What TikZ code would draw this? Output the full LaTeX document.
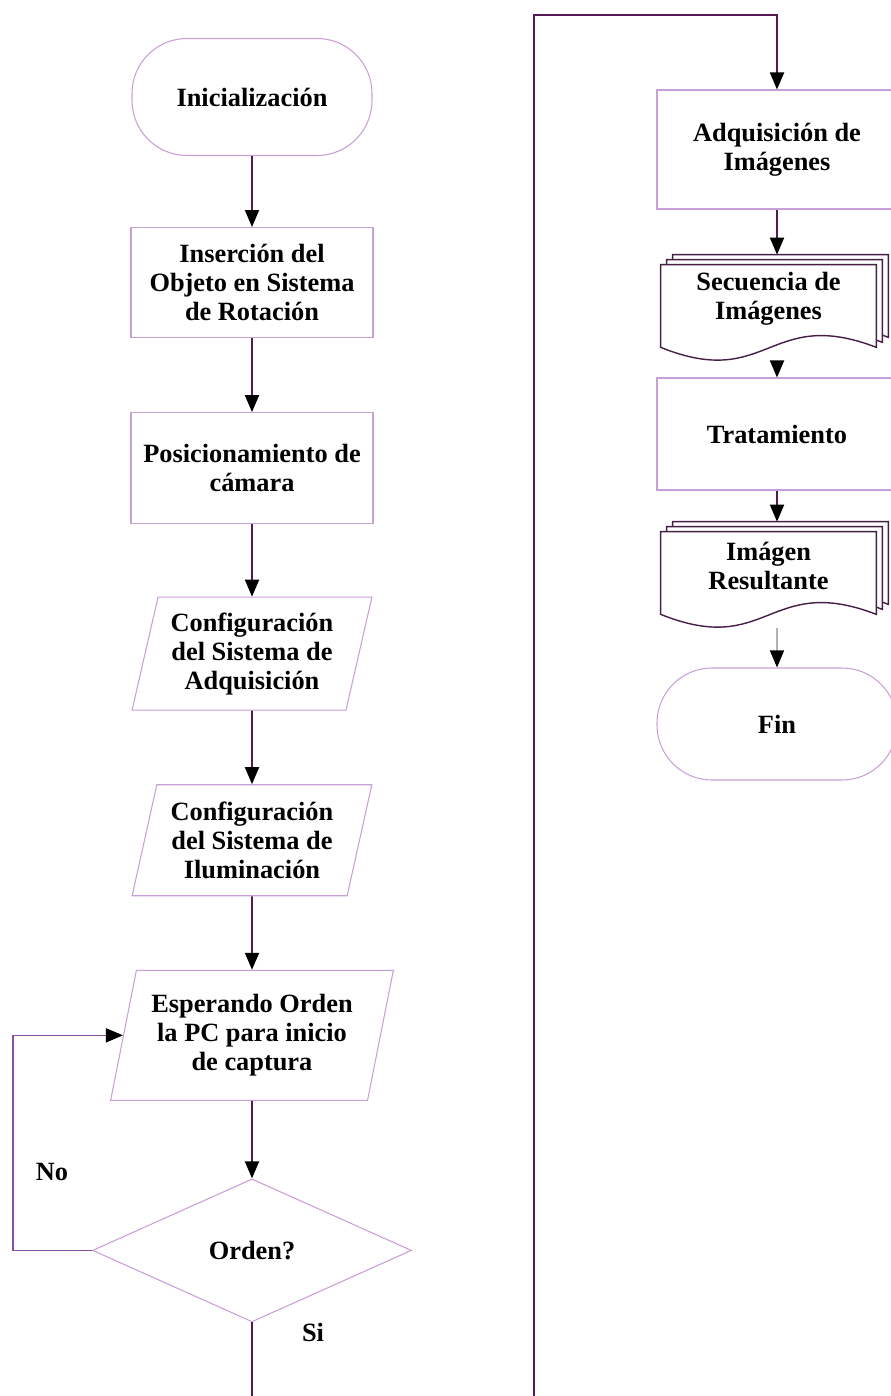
\documentclass[tikz,border=0pt]{standalone}
\usepackage{fontspec}
\setmainfont{Liberation Serif}
\usepackage{tikz}
\usetikzlibrary{arrows.meta,positioning,calc,shapes.geometric,backgrounds}
\definecolor{boxline}{RGB}{200,160,215}
\definecolor{flowline}{RGB}{85,25,85}
\definecolor{loopline}{RGB}{140,80,160}
\definecolor{pageline}{RGB}{70,30,70}

% three stacked pages behind a document node, wavy lower edge
\newcommand{\docstack}[1]{%
  \begin{scope}[on background layer]
    \foreach \dx/\dy in {0.24/0.2,0.12/0.1,0/0}{
      \filldraw[page] ($(#1.north west)+(\dx,\dy)$) -- ($(#1.north east)+(\dx,\dy)$)
        -- ($(#1.south east)+(\dx,\dy-0.28)$)
        .. controls ($(#1.south)+(\dx,\dy+0.55)$) and ($(#1.south)+(\dx,\dy-1.15)$)
        .. ($(#1.south west)+(\dx,\dy-0.28)$) -- cycle;}
  \end{scope}
  \coordinate (#1-top) at ($(#1.north)+(0,0.2)$);
  \coordinate (#1-bot) at ($(#1.south)+(0,-0.55)$);
}

\begin{document}
\begin{tikzpicture}[font=\fontsize{15}{16.5}\selectfont\bfseries,
  term/.style={draw=boxline,line width=0.6pt,rounded corners=1.1cm,align=center,minimum width=4.8cm,minimum height=2.34cm},
  proc/.style={draw=boxline,line width=0.6pt,align=center,inner sep=2pt,minimum width=4.84cm,minimum height=2.2cm},
  io/.style={draw=boxline,line width=0.6pt,align=center,inner sep=1pt,trapezium,trapezium left angle=75,trapezium right angle=105,trapezium stretches=true,minimum width=4.8cm,minimum height=2.26cm},
  decide/.style={draw=boxline,line width=0.6pt,diamond,aspect=2.2,minimum width=6.38cm,minimum height=2.86cm},
  doc/.style={align=center,inner sep=1pt,minimum width=4.3cm,minimum height=1.36cm},
  page/.style={fill=white,draw=pageline,line width=0.8pt},
  lbl/.style={inner sep=1pt},
  arr/.style={draw=flowline,line width=1.1pt,-{Triangle[length=3.4mm,width=2.8mm,color=black]}}]

  \useasboundingbox (0,0) rectangle (17.82,-27.92);

  % left column
  \node[term] (init) at (5.04,-1.94) {Inicialización};
  \node[proc,below=1.42cm of init] (ins) {Inserción del\\Objeto en Sistema\\de Rotación};
  \node[proc,below=1.48cm of ins,minimum height=2.22cm] (pos) {Posicionamiento de\\cámara};
  \node[io,below=1.45cm of pos] (cfga) {Configuración\\del Sistema de\\Adquisición};
  \node[io,below=1.47cm of cfga,minimum height=2.22cm] (cfgi) {Configuración\\del Sistema de\\Iluminación};
  \node[io,below=1.47cm of cfgi,minimum width=5.66cm,minimum height=2.6cm] (wait) {Esperando Orden\\la PC para inicio\\de captura};
  \node[decide,below=1.55cm of wait] (ord) {Orden?};
  \node[lbl] (no) at (1.04,-23.44) {No};
  \node[lbl] (si) at (6.26,-26.64) {Si};

  \draw[arr] (init) -- (ins);
  \draw[arr] (ins) -- (pos);
  \draw[arr] (pos) -- (cfga);
  \draw[arr] (cfga) -- (cfgi);
  \draw[arr] (cfgi) -- (wait);
  \draw[arr] (wait) -- (ord);
  \draw[arr,draw=loopline,line width=0.8pt] (ord.west) -- ++(-1.58,0) |- (wait.west);

  % flow leaves the page at the bottom and comes back on the right
  \coordinate (leftend) at ($(ord.south)+(0,-1.5)$);
  \coordinate (rightend) at (10.68,-27.95);
  \coordinate (topbend) at (10.68,-0.3);
  \draw[draw=flowline,line width=1.1pt] (ord.south) -- (leftend);

  % right column
  \node[proc,minimum width=4.8cm,minimum height=2.38cm] (adq) at (15.54,-2.99) {Adquisición de\\Imágenes};
  \node[doc] (seq) at (15.37,-5.98) {Secuencia de\\Imágenes};
  \docstack{seq}
  \node[proc,minimum width=4.8cm,minimum height=2.24cm] (trat) at (15.54,-8.68) {Tratamiento};
  \node[doc] (img) at (15.37,-11.32) {Imágen\\Resultante};
  \docstack{img}
  \node[term,minimum height=2.24cm] (fin) at (15.54,-14.48) {Fin};

  \draw[arr] (rightend) -- (topbend) -| (adq);
  \draw[arr] (adq) -- (adq |- seq-top);
  \draw[arr] (trat |- seq-bot) -- (trat);
  \draw[arr] (trat) -- (trat |- img-top);
  \draw[arr,draw=gray!60,line width=0.8pt] (fin |- img-bot) -- (fin);
\end{tikzpicture}
\end{document}
